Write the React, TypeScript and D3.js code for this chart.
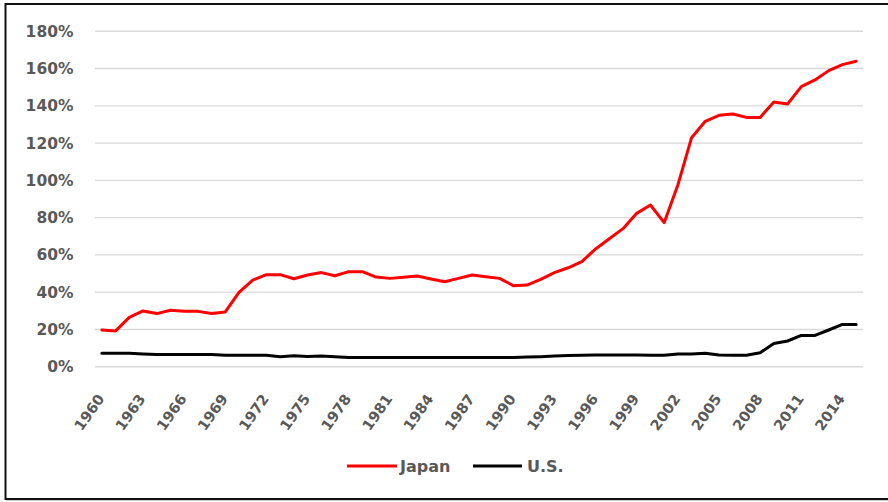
import React from "react";
import * as d3 from "d3";

const years: number[] = d3.range(1960, 2016);
const japan: number[] = [
  19.7, 19.2, 26.5, 29.9, 28.5, 30.3, 29.7, 29.7, 28.5, 29.4,
  39.9, 46.5, 49.4, 49.4, 47.2, 49.2, 50.5, 48.8, 51.0, 51.0,
  48.1, 47.4, 48.0, 48.7, 47.1, 45.6, 47.4, 49.2, 48.3, 47.4,
  43.5, 43.8, 46.9, 50.5, 53.1, 56.4, 63.2, 68.7, 74.1, 82.3,
  86.8, 77.3, 97.5, 122.9, 131.7, 134.9, 135.6, 133.8, 133.8, 142.1,
  141.0, 150.3, 153.9, 158.9, 162.1, 163.9,
];
const us: number[] = [
  7.2, 7.2, 7.2, 6.8, 6.5, 6.5, 6.5, 6.5, 6.5, 6.1,
  6.1, 6.1, 6.1, 5.4, 5.9, 5.5, 5.7, 5.4, 5.0, 5.0,
  5.0, 5.0, 5.0, 5.0, 5.0, 5.0, 5.0, 5.0, 5.0, 5.0,
  4.9, 5.2, 5.4, 5.7, 6.0, 6.2, 6.3, 6.3, 6.3, 6.3,
  6.2, 6.1, 6.8, 6.8, 7.2, 6.3, 6.1, 6.1, 7.5, 12.5,
  13.8, 16.8, 16.8, 19.7, 22.7, 22.7,
];
const yTicks: number[] = [0, 20, 40, 60, 80, 100, 120, 140, 160, 180];
const xLabelYears: number[] = d3.range(1960, 2016, 3);
const seriesNames: string[] = ["Japan", "U.S."];
const seriesColors: string[] = ["#ff0000", "#000000"];

const W = 888;
const H = 502;
const plotLeft = 95;
const plotRight = 863;
const plotTop = 31.3;
const plotBottom = 366.7;

export default function App() {
  const x = d3
    .scalePoint<number>()
    .domain(years)
    .range([plotLeft, plotRight])
    .padding(0.5);
  const y = d3.scaleLinear().domain([0, 180]).range([plotBottom, plotTop]);

  const line = d3
    .line<number>()
    .x((_, i) => x(years[i]) as number)
    .y((d) => y(d))
    .curve(d3.curveLinear);

  const series = [japan, us];
  const font = "'DejaVu Sans', sans-serif";
  const textColor = "#595959";

  return (
    <svg
      width={W}
      height={H}
      style={{ position: "absolute", left: 0, top: 0, background: "#fff" }}
    >
      <rect x={0} y={0} width={W} height={H} fill="#fff" />
      <rect
        x={5.5}
        y={4}
        width={W + 10}
        height={495}
        fill="none"
        stroke="#111"
        strokeWidth={2}
      />
      <line x1={6} x2={W} y1={500.5} y2={500.5} stroke="#cfcfcf" strokeWidth={1} />
      {yTicks.map((t) => (
        <g key={t}>
          <line
            x1={plotLeft}
            x2={plotRight}
            y1={y(t)}
            y2={y(t)}
            stroke="#d9d9d9"
            strokeWidth={1.4}
          />
          <text
            x={73.5}
            y={y(t)}
            dy="0.36em"
            textAnchor="end"
            fontFamily={font}
            fontWeight="bold"
            fontSize={15.5}
            fill={textColor}
          >
            {t}%
          </text>
        </g>
      ))}
      {xLabelYears.map((yr) => {
        const px = x(yr) as number;
        return (
          <text
            key={yr}
            transform={`translate(${px - 1},${plotBottom + 29}) rotate(-55)`}
            textAnchor="end"
            dy="0.35em"
            fontFamily={font}
            fontWeight="bold"
            fontSize={14.5}
            fill={textColor}
          >
            {yr}
          </text>
        );
      })}
      {series.map((s, i) => (
        <path
          key={seriesNames[i]}
          d={line(s) || ""}
          fill="none"
          stroke={seriesColors[i]}
          strokeWidth={3}
          strokeLinejoin="round"
          strokeLinecap="round"
        />
      ))}
      <g>
        <line x1={347} x2={397} y1={466} y2={466} stroke={seriesColors[0]} strokeWidth={3} />
        <text
          x={400}
          y={466}
          dy="0.36em"
          fontFamily={font}
          fontWeight="bold"
          fontSize={16}
          fill={textColor}
        >
          {seriesNames[0]}
        </text>
        <line x1={473} x2={522} y1={466} y2={466} stroke={seriesColors[1]} strokeWidth={3} />
        <text
          x={527}
          y={466}
          dy="0.36em"
          fontFamily={font}
          fontWeight="bold"
          fontSize={16}
          fill={textColor}
        >
          {seriesNames[1]}
        </text>
      </g>
    </svg>
  );
}
